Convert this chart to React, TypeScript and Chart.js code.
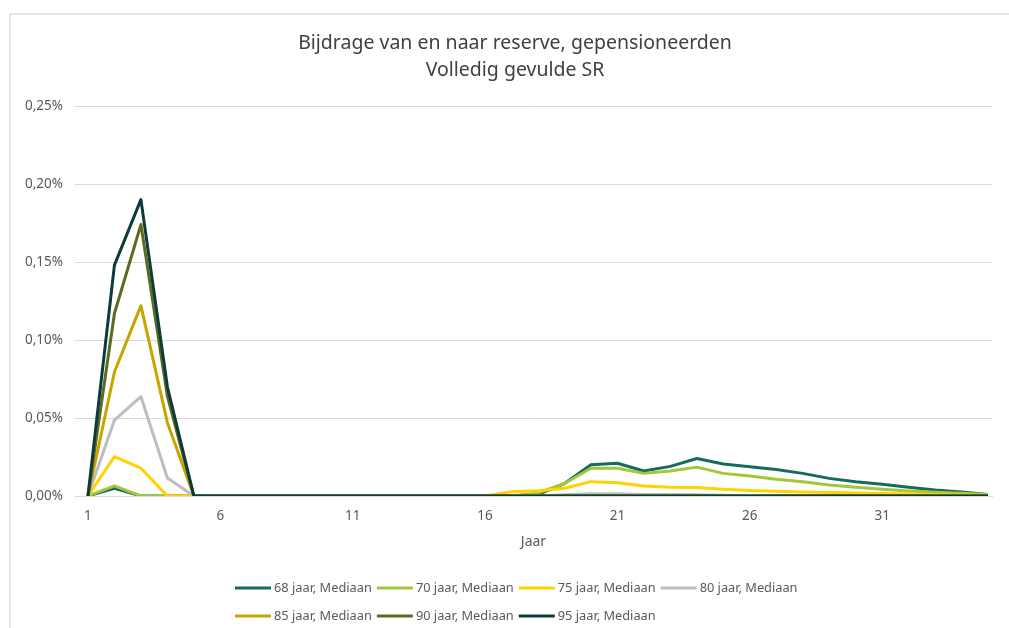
import React, { useEffect, useRef } from "react";
import { Chart, registerables } from "chart.js";

Chart.register(...registerables);

const titleLines = ["Bijdrage van en naar reserve, gepensioneerden", "Volledig gevulde SR"];
const xAxisTitle = "Jaar";

const years = [1, 2, 3, 4, 5, 6, 7, 8, 9, 10, 11, 12, 13, 14, 15, 16, 17, 18, 19, 20, 21, 22, 23, 24, 25, 26, 27, 28, 29, 30, 31, 32, 33, 34, 35];
const xTickValues = [1, 6, 11, 16, 21, 26, 31];
const yTickValues = [0, 0.05, 0.1, 0.15, 0.2, 0.25];

const seriesLabels = [
  "68 jaar, Mediaan",
  "70 jaar, Mediaan",
  "75 jaar, Mediaan",
  "80 jaar, Mediaan",
  "85 jaar, Mediaan",
  "90 jaar, Mediaan",
  "95 jaar, Mediaan",
];
const seriesColors = ["#186B5C", "#A2C73B", "#FFD200", "#BDBDBD", "#C8A400", "#5C6B1F", "#0D3B3B"];

// values in percent
const s68 = [0, 0.005, 0, 0, 0, 0, 0, 0, 0, 0, 0, 0, 0, 0, 0, 0, 0, 0.001, 0.008, 0.02, 0.021, 0.016, 0.019, 0.024, 0.0205, 0.0188, 0.017, 0.0145, 0.0113, 0.0092, 0.0075, 0.0056, 0.0038, 0.0026, 0.001];
const s70 = [0, 0.0065, 0, 0, 0, 0, 0, 0, 0, 0, 0, 0, 0, 0, 0, 0, 0, 0.002, 0.008, 0.0178, 0.0178, 0.0145, 0.016, 0.0185, 0.0145, 0.0128, 0.0107, 0.0092, 0.007, 0.0056, 0.0043, 0.0032, 0.0024, 0.0017, 0.001];
const s75 = [0, 0.0252, 0.0178, 0, 0, 0, 0, 0, 0, 0, 0, 0, 0, 0, 0, 0, 0.0028, 0.0034, 0.005, 0.0092, 0.0085, 0.0064, 0.0056, 0.0054, 0.0043, 0.0036, 0.003, 0.0026, 0.0022, 0.0019, 0.0016, 0.0013, 0.001, 0.0007, 0.0005];
const s80 = [0, 0.0487, 0.0637, 0.0115, 0, 0, 0, 0, 0, 0, 0, 0, 0, 0, 0, 0, 0, 0, 0.0008, 0.0015, 0.0015, 0.001, 0.001, 0.0008, 0.0005, 0, 0, 0, 0, 0, 0, 0, 0, 0, 0];
const s85 = [0, 0.0795, 0.122, 0.047, 0, 0, 0, 0, 0, 0, 0, 0, 0, 0, 0, 0, 0, 0, 0, 0, 0, 0, 0, 0, 0, 0, 0, 0, 0, 0, 0, 0, 0, 0, 0];
const s90 = [0, 0.117, 0.174, 0.064, 0, 0, 0, 0, 0, 0, 0, 0, 0, 0, 0, 0, 0, 0, 0, 0, 0, 0, 0, 0, 0, 0, 0, 0, 0, 0, 0, 0, 0, 0, 0];
const s95 = [0, 0.148, 0.19, 0.07, 0, 0, 0, 0, 0, 0, 0, 0, 0, 0, 0, 0, 0, 0, 0, 0, 0, 0, 0, 0, 0, 0, 0, 0, 0, 0, 0, 0, 0, 0, 0];

const allSeries = [s68, s70, s75, s80, s85, s90, s95];

const FONT = '"Noto Sans", "Open Sans", sans-serif';

const titlePlugin = {
  id: "excelTitle",
  afterDraw(chart: any) {
    const ctx = chart.ctx;
    ctx.save();
    ctx.font = `19.5px ${FONT}`;
    ctx.fillStyle = "#404040";
    ctx.textAlign = "center";
    ctx.textBaseline = "middle";
    const ys = [43, 70];
    titleLines.forEach((t, i) => ctx.fillText(t, 515, ys[i]));
    ctx.restore();
  },
};

const legendPlugin = {
  id: "excelLegend",
  afterDraw(chart: any) {
    const ctx = chart.ctx;
    ctx.save();
    ctx.font = `12.8px ${FONT}`;
    ctx.textBaseline = "middle";
    ctx.textAlign = "left";
    const lineW = 36;
    const gap = 3;
    const itemGap = 5;
    const items = chart.data.datasets.map((ds: any) => ({
      label: ds.label,
      color: ds.borderColor,
      w: lineW + gap + ctx.measureText(ds.label).width + itemGap,
    }));
    const rows = [items.slice(0, 4), items.slice(4)];
    const ys = [588, 616];
    const x0 = 235;
    rows.forEach((row: any[], r: number) => {
      let x = x0;
      row.forEach((it) => {
        ctx.fillStyle = it.color;
        ctx.fillRect(x, ys[r] - 1.5, lineW, 3);
        ctx.fillStyle = "#595959";
        ctx.fillText(it.label, x + lineW + gap, ys[r]);
        x += it.w;
      });
    });
    ctx.restore();
  },
};

export default function App() {
  const canvasRef = useRef<HTMLCanvasElement | null>(null);

  useEffect(() => {
    if (!canvasRef.current) return;
    const datasets = allSeries.map((s, i) => ({
      label: seriesLabels[i],
      data: s.map((v, j) => ({ x: years[j], y: v })),
      borderColor: seriesColors[i],
      backgroundColor: seriesColors[i],
      borderWidth: 3,
      pointRadius: 0,
      tension: 0,
      order: allSeries.length - i,
      borderJoinStyle: "round" as const,
    }));
    const chart = new Chart(canvasRef.current, {
      type: "line",
      data: { datasets },
      plugins: [titlePlugin, legendPlugin],
      options: {
        responsive: false,
        animation: false,
        layout: { padding: { left: 0, right: 17, top: 106, bottom: 78 } },
        plugins: {
          legend: { display: false },
          tooltip: { enabled: false },
          title: { display: false },
        },
        scales: {
          x: {
            type: "linear",
            min: 0.51,
            max: 35.15,
            afterBuildTicks: (scale: any) => {
              scale.ticks = xTickValues.map((v) => ({ value: v }));
            },
            afterFit: (scale: any) => {
              scale.height = 54;
            },
            grid: { display: false, drawTicks: false },
            border: { display: true, color: "#d9d9d9" },
            ticks: {
              color: "#595959",
              font: { family: FONT, size: 13.5 },
              padding: 12,
              maxRotation: 0,
              autoSkip: false,
              callback: (v: any) => String(v),
            },
            title: {
              display: true,
              text: xAxisTitle,
              color: "#595959",
              font: { family: FONT, size: 14 },
              padding: { top: 0, bottom: 0 },
            },
          },
          y: {
            min: 0,
            max: 0.25,
            afterBuildTicks: (scale: any) => {
              scale.ticks = yTickValues.map((v) => ({ value: v }));
            },
            afterFit: (scale: any) => {
              scale.width = 75;
            },
            grid: { color: "#d9d9d9", drawTicks: false, lineWidth: 1 },
            border: { display: false },
            ticks: {
              color: "#595959",
              font: { family: FONT, size: 13.5 },
              padding: 12,
              callback: (v: any) => Number(v).toFixed(2).replace(".", ",") + "%",
            },
          },
        },
      },
    });
    return () => chart.destroy();
  }, []);

  return (
    <div style={{ position: "fixed", left: 0, top: 0, width: 1009, height: 628, background: "#ffffff", overflow: "hidden" }}>
      <div
        style={{
          position: "absolute",
          left: 9,
          top: 13,
          width: 1100,
          height: 700,
          borderLeft: "2px solid #e6e6e6",
          borderTop: "2px solid #e6e6e6",
        }}
      />
      <canvas ref={canvasRef} width={1009} height={628} style={{ position: "absolute", left: 0, top: 0 }} />
    </div>
  );
}
